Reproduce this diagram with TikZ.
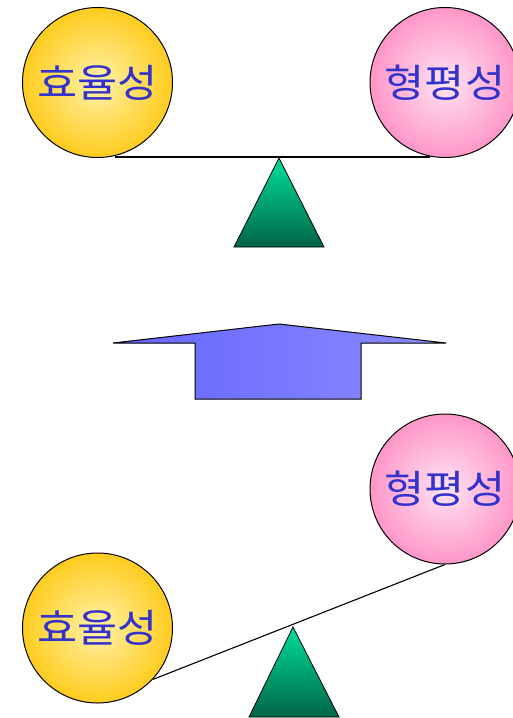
\documentclass[tikz,border=0pt]{standalone}
\usepackage{graphicx}
\usepackage{fontspec}
\newfontfamily\kr{Noto Sans CJK KR}
\newcommand{\wide}[1]{\scalebox{1.12}[1]{#1}}
\definecolor{txtblue}{RGB}{51,51,204}
\definecolor{yin}{RGB}{255,242,170}
\definecolor{yout}{RGB}{255,204,30}
\definecolor{pin}{RGB}{255,228,242}
\definecolor{pout}{RGB}{255,150,200}
\definecolor{ttop}{RGB}{0,222,155}
\definecolor{tbot}{RGB}{0,100,70}
\definecolor{aleft}{RGB}{100,100,255}
\definecolor{aright}{RGB}{140,140,255}
\begin{document}
\begin{tikzpicture}[x=1pt,y=-1pt,
  ball/.style={circle,draw=black,line width=1pt,minimum size=150pt,inner sep=0pt,
    font=\kr\fontsize{39}{39}\selectfont,text=txtblue},
  yball/.style={ball,inner color=yin,outer color=yout},
  pball/.style={ball,inner color=pin,outer color=pout},
  beam/.style={draw=black,line width=1.1pt},
  fulcrum/.style={draw=black,line width=0.8pt,top color=ttop,bottom color=tbot},
  bigarrow/.style={draw=black,line width=1pt,left color=aleft,right color=aright}]
\useasboundingbox (0,0) rectangle (512,718);
% top balance
\node[yball] (y1) at (97.5,82.5) {\wide{효율성}};
\node[pball] (p1) at (445,82.5) {\wide{형평성}};
\coordinate (b1l) at (115,157);
\coordinate (b1r) at (430,157);
\draw[beam] (b1l) -- (b1r);
\coordinate (t1a) at (279,158);
\coordinate (t1b) at (324,247);
\coordinate (t1c) at (234,247);
\path[fulcrum] (t1a) -- (t1b) -- (t1c) -- cycle;
% arrow
\path[bigarrow] (113,343) -- (279,324) -- (446,343) -- (361,343) -- (361,399)
  -- (195,399) -- (195,343) -- cycle;
% bottom balance
\node[pball] (p2) at (445,489) {\wide{형평성}};
\node[yball] (y2) at (97.5,628) {\wide{효율성}};
\draw[beam] (y2.-43) -- (p2.south);
\coordinate (t2a) at (293,627);
\coordinate (t2b) at (339,717);
\coordinate (t2c) at (249,717);
\path[fulcrum] (t2a) -- (t2b) -- (t2c) -- cycle;
\end{tikzpicture}
\end{document}
